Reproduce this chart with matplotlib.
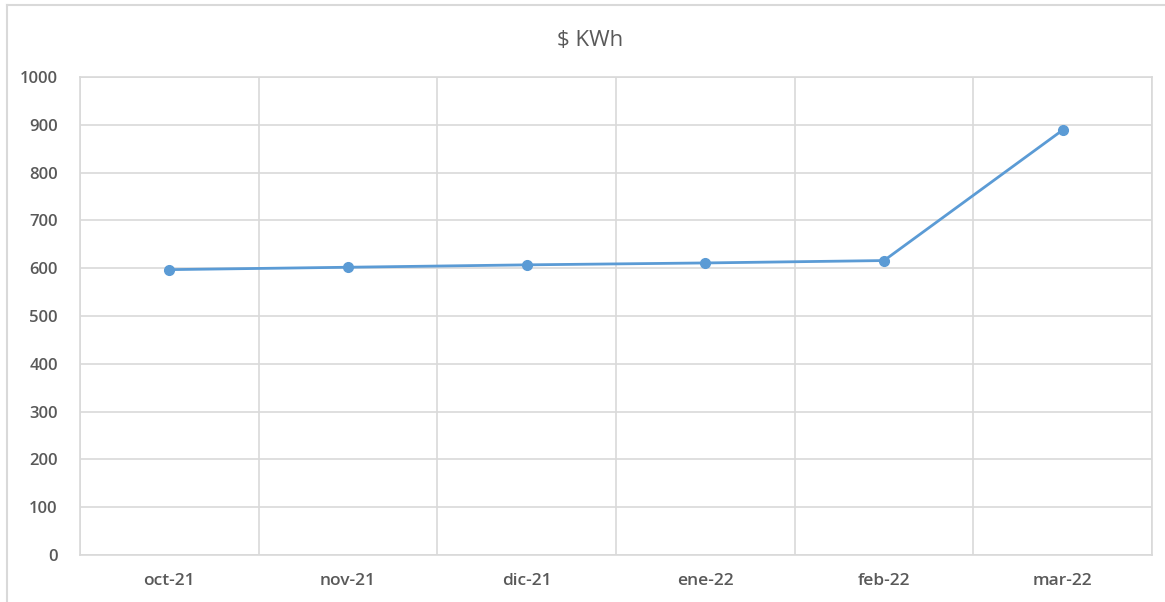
import numpy as np
import matplotlib
matplotlib.use("Agg")
from matplotlib import pyplot as plt
from matplotlib.lines import Line2D

months = ["oct-21", "nov-21", "dic-21", "ene-22", "feb-22", "mar-22"]
kwh_price = [597, 602, 607, 611, 616, 889]
y_ticks = list(range(0, 1001, 100))

plt.rcParams['font.family'] = ['Open Sans', 'DejaVu Sans']
grid_c = '#d9d9d9'
text_c = '#595959'

fig = plt.figure(figsize=(11.65, 6.02), dpi=100)
W, H = 1165, 602
ax = fig.add_axes([80 / W, 1 - 555 / H, (1152 - 80) / W, (555 - 77) / H])

x = np.arange(len(months))
ax.plot(x, kwh_price, color='#5b9bd5', lw=2.0, marker='o', ms=7, zorder=3)

ax.set_xlim(-0.5, len(months) - 0.5)
ax.set_ylim(0, 1000)
ax.set_yticks(y_ticks)
ax.set_xticks(x)
ax.set_xticklabels(months)
ax.set_xticks(np.arange(len(months) + 1) - 0.5, minor=True)
ax.grid(True, axis='y', which='major', color=grid_c, lw=1.2)
ax.grid(True, axis='x', which='minor', color=grid_c, lw=1.2)
ax.tick_params(which='both', length=0)
ax.tick_params(axis='x', pad=13, labelsize=12.5, colors=text_c)
ax.tick_params(axis='y', pad=16, labelsize=12, colors=text_c)
for lbl in ax.get_xticklabels() + ax.get_yticklabels():
    lbl.set_fontweight('semibold')
for s in ax.spines.values():
    s.set_color(grid_c)
    s.set_linewidth(1.2)

fig.text(590 / W, 1 - 40 / H, "$ KWh", ha='center', va='center',
         fontsize=16, color=text_c)

# chart outer border (top and left visible)
fig.add_artist(Line2D([7 / W, 1], [1 - 5 / H, 1 - 5 / H], color=grid_c, lw=1.5,
                      transform=fig.transFigure))
fig.add_artist(Line2D([7 / W, 7 / W], [0, 1 - 5 / H], color=grid_c, lw=1.5,
                      transform=fig.transFigure))

fig.savefig("out.png", dpi=100)
